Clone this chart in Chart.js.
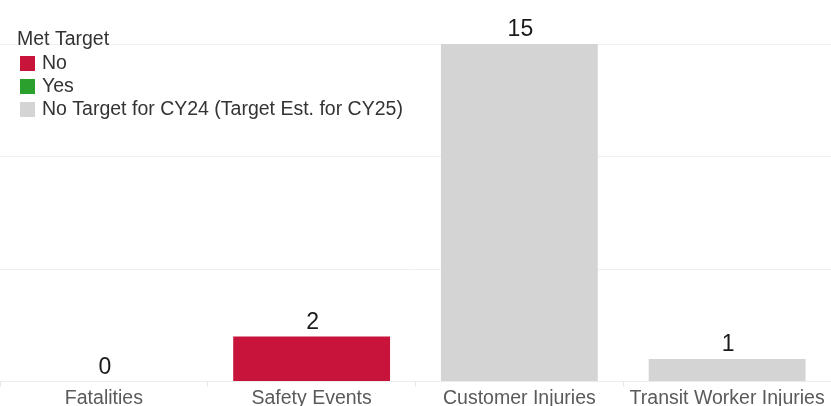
<!DOCTYPE html>
<html>
<head>
<meta charset="utf-8">
<script src="https://cdn.jsdelivr.net/npm/chart.js@4.4.1/dist/chart.umd.min.js"></script>
<style>
  html, body { margin: 0; padding: 0; background: #fff; overflow: hidden; }
  #wrap { width: 831px; height: 406px; }
</style>
</head>
<body>
<div id="wrap"><canvas id="measures" width="831" height="406"></canvas></div>
<script>
// measures and values
const categories = ["Fatalities", "Safety Events", "Customer Injuries", "Transit Worker Injuries"];
const counts = [0, 2, 15, 1];
const metTarget = ["No", "No", "None", "None"];

const legendTitle = "Met Target";
const legendLabels = ["No", "Yes", "No Target for CY24 (Target Est. for CY25)"];
const legendKeys = ["No", "Yes", "None"];

const colours = { "No": "#c8143a", "Yes": "#2ca02c", "None": "#d4d4d4" };

const FONT = "'Liberation Sans', Arial, sans-serif";

// value above each bar
const valueLabels = {
    id: "valueLabels",
    afterDatasetsDraw(chart) {
        let ctx = chart.ctx;
        let meta = chart.getDatasetMeta(0);
        ctx.save();
        ctx.font = "23px " + FONT;
        ctx.fillStyle = "#1a1a1a";
        ctx.textAlign = "center";
        ctx.textBaseline = "alphabetic";
        meta.data.forEach((bar, i) => {
            ctx.fillText(String(counts[i]), bar.x + 1, bar.y - 8);
        });
        ctx.restore();
    }
};

// legend sits over the plot at top left
const cornerLegend = {
    id: "cornerLegend",
    afterDraw(chart) {
        let ctx = chart.ctx;
        ctx.save();
        ctx.textBaseline = "middle";
        ctx.textAlign = "left";
        ctx.font = "19.5px " + FONT;
        ctx.fillStyle = "#333";
        ctx.fillText(legendTitle, 17, 40);
        legendLabels.forEach((txt, i) => {
            let y = 64 + i * 23;
            ctx.fillStyle = colours[legendKeys[i]];
            ctx.fillRect(20, y - 8, 15, 15);
            ctx.fillStyle = "#333";
            ctx.fillText(txt, 42, y);
        });
        ctx.restore();
    }
};

new Chart(document.getElementById("measures"), {
    type: "bar",
    data: {
        labels: categories,
        datasets: [{
            data: counts,
            backgroundColor: metTarget.map(k => colours[k]),
            borderWidth: 0,
            barPercentage: 0.755,
            categoryPercentage: 1
        }]
    },
    options: {
        responsive: false,
        animation: false,
        layout: { padding: { top: 44, left: 0, right: 0, bottom: -4 } },
        plugins: { legend: { display: false }, tooltip: { enabled: false } },
        scales: {
            x: {
                grid: { display: true, drawOnChartArea: false, offset: true, color: "#e8e8e8", tickLength: 5 },
                border: { display: true, color: "#ececec" },
                ticks: { font: { family: FONT, size: 19.5 }, color: "#5a5a5a", padding: 0 }
            },
            y: {
                min: 0, max: 15,
                ticks: { display: false, stepSize: 5 },
                grid: { color: "#f0f0f0", drawTicks: false },
                border: { display: false }
            }
        }
    },
    plugins: [valueLabels, cornerLegend]
});
</script>
</body>
</html>
